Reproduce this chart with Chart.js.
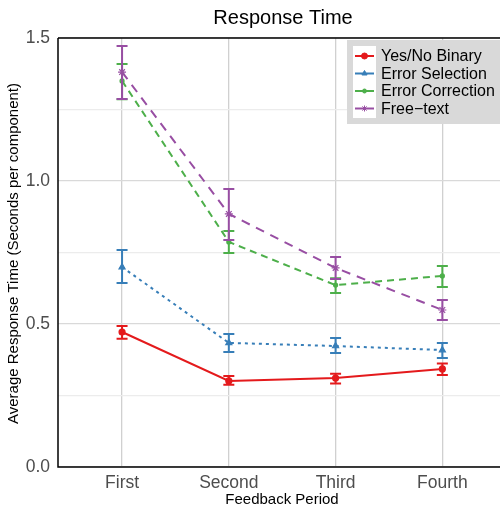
<!DOCTYPE html>
<html>
<head>
<meta charset="utf-8">
<script src="https://cdn.jsdelivr.net/npm/chart.js@4"></script>
<style>
html,body{margin:0;padding:0;background:#fff;}
#wrap{width:500px;height:512px;position:relative;}
</style>
</head>
<body>
<div id="wrap"><canvas id="c" width="500" height="512"></canvas></div>
<script>
const categories = ['First', 'Second', 'Third', 'Fourth'];
const seriesNames = ['Yes/No Binary', 'Error Selection', 'Error Correction', 'Free\u2212text'];

const yesNoMean = [0.472, 0.301, 0.311, 0.343];
const yesNoLow  = [0.448, 0.288, 0.292, 0.322];
const yesNoHigh = [0.493, 0.318, 0.326, 0.362];

const selMean = [0.699, 0.434, 0.423, 0.409];
const selLow  = [0.643, 0.402, 0.399, 0.381];
const selHigh = [0.759, 0.465, 0.451, 0.434];

const corMean = [1.350, 0.787, 0.636, 0.668];
const corLow  = [1.286, 0.748, 0.608, 0.629];
const corHigh = [1.409, 0.825, 0.660, 0.703];

const freeMean = [1.381, 0.885, 0.696, 0.549];
const freeLow  = [1.287, 0.794, 0.657, 0.514];
const freeHigh = [1.472, 0.972, 0.734, 0.584];

const yTickLabels = ['0.0', '0.5', '1.0', '1.5'];

const colors = ['#e41a1c', '#377eb8', '#4daf4a', '#984ea3'];
const FONT = '"Liberation Sans", Arial, sans-serif';

function pts(mean, low, high) {
  return mean.map((v, i) => ({x: i + 1, y: v, lo: low[i], hi: high[i]}));
}

const specs = [
  {m: yesNoMean, l: yesNoLow, h: yesNoHigh, dash: [], ps: 'circle', r: 3},
  {m: selMean, l: selLow, h: selHigh, dash: [3, 4], ps: 'triangle', r: 3.5},
  {m: corMean, l: corLow, h: corHigh, dash: [7, 5], ps: 'circle', r: 2},
  {m: freeMean, l: freeLow, h: freeHigh, dash: [9, 7], ps: 'star', r: 4}
];

const datasets = specs.map((s, i) => ({
  label: seriesNames[i],
  data: pts(s.m, s.l, s.h),
  borderColor: colors[i],
  backgroundColor: colors[i],
  borderWidth: 2,
  borderDash: s.dash,
  pointStyle: s.ps,
  pointRadius: s.r,
  pointBorderWidth: 1.2,
  pointHoverRadius: s.r,
  tension: 0,
  fill: false,
  clip: false,
  order: i
}));

const fixArea = {
  id: 'fixArea',
  afterLayout(chart) {
    const a = chart.chartArea, x = chart.scales.x;
    a.right = 500; a.width = a.right - a.left;
    x.right = 500; x.width = x.right - x.left;
    x.configure();
  }
};

const errorBars = {
  id: 'errorBars',
  afterDatasetsDraw(chart) {
    const ctx = chart.ctx, xs = chart.scales.x, ys = chart.scales.y;
    chart.data.datasets.forEach((ds) => {
      ctx.save();
      ctx.strokeStyle = ds.borderColor;
      ctx.lineWidth = 2;
      ctx.setLineDash([]);
      ds.data.forEach(p => {
        const x = xs.getPixelForValue(p.x);
        const y1 = ys.getPixelForValue(p.lo), y2 = ys.getPixelForValue(p.hi);
        ctx.beginPath();
        ctx.moveTo(x, y1); ctx.lineTo(x, y2);
        ctx.moveTo(x - 5.5, y1); ctx.lineTo(x + 5.5, y1);
        ctx.moveTo(x - 5.5, y2); ctx.lineTo(x + 5.5, y2);
        ctx.stroke();
      });
      ctx.restore();
    });
  }
};

const decor = {
  id: 'decor',
  afterDraw(chart) {
    const ctx = chart.ctx, a = chart.chartArea;
    ctx.save();
    // axis frame: left, bottom, top
    ctx.strokeStyle = '#000';
    ctx.lineWidth = 1.5;
    ctx.setLineDash([]);
    ctx.beginPath();
    ctx.moveTo(a.left, a.top); ctx.lineTo(a.left, a.bottom); ctx.lineTo(a.right, a.bottom);
    ctx.moveTo(a.left, a.top); ctx.lineTo(a.right, a.top);
    ctx.stroke();
    // title
    ctx.fillStyle = '#000';
    ctx.font = '20px ' + FONT;
    ctx.textAlign = 'center'; ctx.textBaseline = 'middle';
    ctx.fillText('Response Time', 283, 18);
    // x title
    ctx.font = '15px ' + FONT;
    ctx.fillText('Feedback Period', 282, 500);
    // y title
    ctx.save();
    ctx.translate(14, (a.top + a.bottom) / 2 + 1);
    ctx.rotate(-Math.PI / 2);
    ctx.fillText('Average Response Time (Seconds per component)', 0, 0);
    ctx.restore();
    // legend
    const lx = 347, ly = 40, lw = 153, lh = 84;
    ctx.fillStyle = '#d9d9d9';
    ctx.fillRect(lx, ly, lw, lh);
    ctx.fillStyle = '#fff';
    ctx.fillRect(lx + 6, ly + 6, 23, lh - 12);
    ctx.font = '16px ' + FONT;
    ctx.textAlign = 'left';
    chart.data.datasets.forEach((ds, i) => {
      const y = ly + 16 + i * 17.5;
      ctx.strokeStyle = ds.borderColor;
      ctx.fillStyle = ds.borderColor;
      ctx.lineWidth = 2;
      ctx.setLineDash([]);
      ctx.beginPath(); ctx.moveTo(lx + 8, y); ctx.lineTo(lx + 27, y); ctx.stroke();
      ctx.lineWidth = 1;
      Chart.helpers.drawPoint(ctx, {pointStyle: ds.pointStyle, radius: Math.min(ds.pointRadius, 3), borderWidth: 1, rotation: 0}, lx + 17.5, y);
      ctx.fillStyle = '#000';
      ctx.fillText(ds.label, lx + 34, y + 1);
    });
    ctx.restore();
  }
};

const chart = new Chart(document.getElementById('c'), {
  type: 'line',
  data: {datasets},
  options: {
    responsive: false,
    animation: false,
    devicePixelRatio: 1,
    layout: {padding: {top: 38, right: 0, left: 0, bottom: 0}},
    plugins: {legend: {display: false}, title: {display: false}, tooltip: {enabled: false}},
    scales: {
      x: {
        type: 'linear', min: 0.4, max: 4.54,
        afterBuildTicks(s) { s.ticks = categories.map((c, i) => ({value: i + 1})); },
        afterFit(s) { s.height = 45; },
        ticks: {
          callback: (v) => categories[v - 1] || '',
          color: '#4d4d4d', font: {size: 17.5, family: FONT}, padding: 6,
          autoSkip: false, maxRotation: 0
        },
        grid: {color: '#d0d0d0', lineWidth: 1.3, drawTicks: false},
        border: {display: false}
      },
      y: {
        min: 0, max: 1.5,
        afterBuildTicks(s) { s.ticks = [0, 0.25, 0.5, 0.75, 1.0, 1.25, 1.5].map(v => ({value: v})); },
        afterFit(s) { s.width = 58; },
        ticks: {
          callback: (v) => (Math.abs(v * 2 - Math.round(v * 2)) < 1e-6 ? yTickLabels[Math.round(v * 2)] : ''),
          color: '#4d4d4d', font: {size: 17.5, family: FONT}, padding: 8
        },
        grid: {
          color: (c) => (Math.abs(c.tick.value * 2 - Math.round(c.tick.value * 2)) < 1e-6 ? '#d9d9d9' : '#ececec'),
          lineWidth: 1.3, drawTicks: false
        },
        border: {display: false}
      }
    }
  },
  plugins: [fixArea, errorBars, decor]
});
</script>
</body>
</html>
